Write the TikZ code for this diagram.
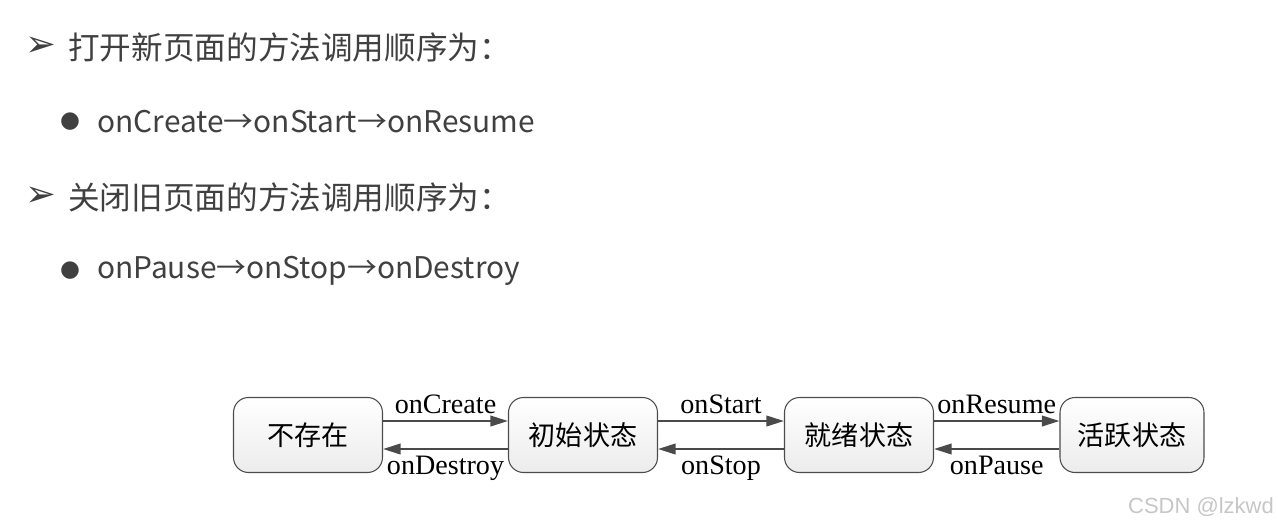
\documentclass[tikz,border=0pt]{standalone}
\usepackage{fontspec}
\setmainfont{Liberation Serif}
\newfontfamily\cjk{Noto Sans CJK SC}
\newfontfamily\symb{DejaVu Sans}
\newfontfamily\wmfont{Liberation Sans}
\usepackage{xcolor}
\usetikzlibrary{arrows.meta,positioning}
\definecolor{textgray}{HTML}{404040}
\definecolor{linegray}{HTML}{4A4A4A}

\begin{document}
\begin{tikzpicture}[x=0.02cm, y=-0.02cm,
    title/.style={anchor=west, inner sep=0pt, text=textgray, font=\cjk\fontsize{18}{20}\selectfont},
    seqtext/.style={anchor=west, inner sep=0pt, text=textgray, font=\cjk\fontsize{17}{20}\selectfont},
    trimark/.style={inner sep=0pt, text=textgray, font=\symb\fontsize{21}{24}\selectfont},
    dotmark/.style={inner sep=0pt, text=textgray, font=\symb\fontsize{13}{16}\selectfont},
    statebox/.style={draw=gray!60!black, rounded corners=0.3cm, top color=white, bottom color=gray!15, minimum width=2.98cm, minimum height=1.5cm, font=\cjk\fontsize{15.4}{18}\selectfont, line width=0.6pt},
    flowarrow/.style={-{Triangle[length=10pt,width=6pt]}, line width=1.2pt, draw=linegray},
    lbl/.style={font=\fontsize{16}{19}\selectfont}
]
    \useasboundingbox (0,0) rectangle (1278,528);

    % Headings and bullets
    \node[trimark] (tri1) at (41,47) {➢};
    \node[title] (head1) at (68,47) {打开新页面的方法调用顺序为：};
    \node[dotmark] (dot1) at (70,122) {●};
    \node[seqtext] (seq1) at (97,122) {onCreate→onStart→onResume};
    \node[trimark] (tri2) at (41,197) {➢};
    \node[title] (head2) at (68,197) {关闭旧页面的方法调用顺序为：};
    \node[dotmark] (dot2) at (70,271) {●};
    \node[seqtext] (seq2) at (97,271) {onPause→onStop→onDestroy};

    % States
    \node[statebox] (nonexist) at (308,435) {不存在};
    \node[statebox] (created) at (583,435) {初始状态};
    \node[statebox] (ready) at (859,435) {就绪状态};
    \node[statebox, minimum width=2.88cm] (active) at (1132,435) {活跃状态};

    % Forward arrows
    \draw[flowarrow] ([yshift=0.28cm]nonexist.east) -- node[lbl, above] {onCreate} ([yshift=0.28cm]created.west);
    \draw[flowarrow] ([yshift=0.28cm]created.east) -- node[lbl, above] {onStart} ([yshift=0.28cm]ready.west);
    \draw[flowarrow] ([yshift=0.28cm]ready.east) -- node[lbl, above] {onResume} ([yshift=0.28cm]active.west);

    % Backward arrows
    \draw[flowarrow] ([yshift=-0.28cm]created.west) -- node[lbl, below] {onDestroy} ([yshift=-0.28cm]nonexist.east);
    \draw[flowarrow] ([yshift=-0.28cm]ready.west) -- node[lbl, below] {onStop} ([yshift=-0.28cm]created.east);
    \draw[flowarrow] ([yshift=-0.28cm]active.west) -- node[lbl, below] {onPause} ([yshift=-0.28cm]ready.east);

    % Watermark
    \node[text=gray!45, font=\wmfont\fontsize{12.5}{15}\selectfont] (mark) at (1201,507) {CSDN @lzkwd};
\end{tikzpicture}
\end{document}
